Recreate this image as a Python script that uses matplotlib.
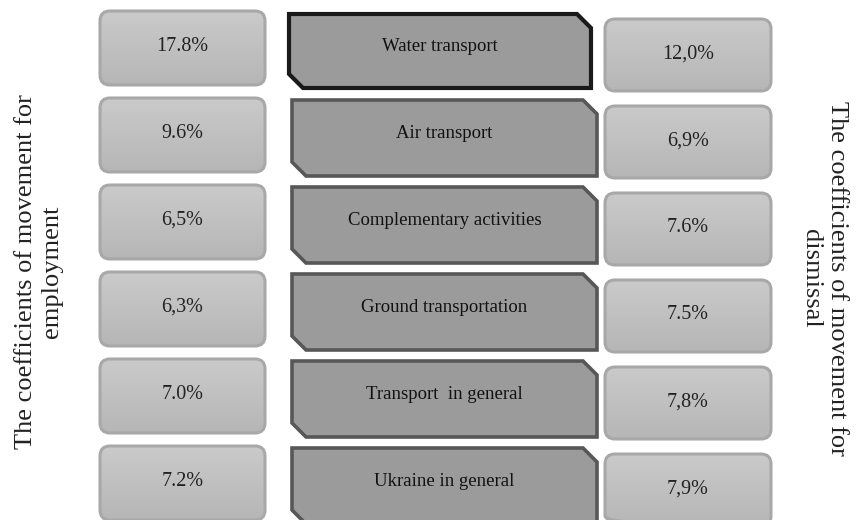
import matplotlib.pyplot as plt
import numpy as np
from matplotlib.colors import LinearSegmentedColormap
from matplotlib.patches import FancyBboxPatch, Polygon

# values
sectors = [
    "Water transport",
    "Air transport",
    "Complementary activities",
    "Ground transportation",
    "Transport  in general",
    "Ukraine in general",
]
employment = ["17.8%", "9.6%", "6,5%", "6,3%", "7.0%", "7.2%"]
dismissal = ["12,0%", "6,9%", "7.6%", "7.5%", "7,8%", "7,9%"]
left_title = "The coefficients of movement for\nemployment"
right_title = "The coefficients of movement for\ndismissal"

SERIF = ["Liberation Serif", "DejaVu Serif"]
grey_grad = LinearSegmentedColormap.from_list("g", ["#cacaca", "#b6b6b6"])


def rounded_box(ax, x0, y0, w, h, text):
    box = FancyBboxPatch((x0, y0), w, h,
                         boxstyle="round,pad=0,rounding_size=10",
                         facecolor="none", edgecolor="#a8a8a8", lw=2.2, zorder=3)
    ax.add_patch(box)
    grad = np.linspace(0, 1, 64).reshape(-1, 1)
    img = ax.imshow(grad, cmap=grey_grad, extent=(x0, x0 + w, y0 + h, y0),
                    aspect="auto", zorder=2)
    img.set_clip_path(box)
    ax.text(x0 + w / 2, y0 + h * 0.48, text, ha="center", va="center",
            fontsize=14.5, family=SERIF, color="#222222", zorder=4)


def snip_box(ax, x0, y0, w, h, text, edge, lw):
    c = 14
    pts = [(x0, y0), (x0 + w - c, y0), (x0 + w, y0 + c), (x0 + w, y0 + h),
           (x0 + c, y0 + h), (x0, y0 + h - c)]
    ax.add_patch(Polygon(pts, closed=True, facecolor="#9b9b9b",
                         edgecolor=edge, lw=lw, joinstyle="miter", zorder=3))
    ax.text(x0 + w / 2, y0 + h * 0.44, text, ha="center", va="center",
            fontsize=13.5, family=SERIF, color="#111111", zorder=4)


fig = plt.figure(figsize=(8.57, 5.2), dpi=100)
ax = fig.add_axes([0, 0, 1, 1])
ax.set_xlim(0, 857)
ax.set_ylim(520, 0)
ax.axis("off")

pitch = 87
for i, (sec, emp, dis) in enumerate(zip(sectors, employment, dismissal)):
    rounded_box(ax, 100, 11 + i * pitch, 165, 74, emp)
    rounded_box(ax, 605, 19 + i * pitch, 166, 72, dis)
    if i == 0:
        snip_box(ax, 289, 14, 302, 74, sec, "#1a1a1a", 3.0)
    else:
        snip_box(ax, 292, 13 + i * pitch, 305, 76, sec, "#575757", 2.6)

ax.text(39, 272, left_title, rotation=90, ha="center", va="center",
        multialignment="center", fontsize=19, family=SERIF,
        color="#222222", linespacing=1.2)
ax.text(824, 278, right_title, rotation=-90, ha="center", va="center",
        multialignment="center", fontsize=19, family=SERIF,
        color="#222222", linespacing=1.2)

fig.savefig("out.png", dpi=100)
